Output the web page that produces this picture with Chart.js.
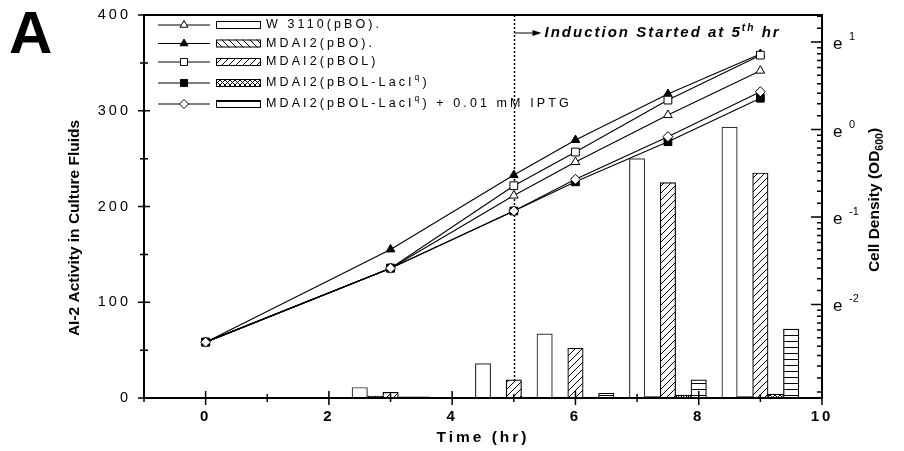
<!DOCTYPE html>
<html><head><meta charset="utf-8">
<script src="https://cdn.jsdelivr.net/npm/chart.js@4/dist/chart.umd.min.js"></script>
<style>html,body{margin:0;padding:0;background:#fff}#wrap{width:904px;height:451px}</style>
</head><body><div id="wrap"><canvas id="c" width="904" height="451"></canvas></div>
<script>
// ---------- data ----------
const times = [0, 3, 5, 6, 7.5, 9];                    // sampling times (hr)
const odW3110   = [0.088, 0.205, 0.470, 0.690, 1.18, 1.96];
const odPBO     = [0.088, 0.254, 0.594, 0.887, 1.50, 2.37];
const odPBOL    = [0.088, 0.205, 0.526, 0.773, 1.40, 2.34];
const odLacI    = [0.088, 0.205, 0.394, 0.550, 0.870, 1.43];
const odIPTG    = [0.088, 0.205, 0.394, 0.566, 0.921, 1.54];

const barTimes  = [3, 5, 6, 7.5, 9];
const aiW3110   = [11, 36, 67, 250, 283];
const aiPBO     = [2, 1, 1, 1.5, 1.5];
const aiPBOL    = [6, 19, 52, 225, 235];
const aiLacI    = [1.3, 1, 1, 3, 4];
const aiIPTG    = [1.3, 1, 5, 19, 72];

const seriesLabels = ['W 3110(pBO).', 'MDAI2(pBO).', 'MDAI2(pBOL)', 'MDAI2(pBOL-LacI^q)', 'MDAI2(pBOL-LacI^q) + 0.01 mM IPTG'];
const xTickValues = [0, 2, 4, 6, 8, 10];
const leftTickValues = [0, 100, 200, 300, 400];
const rightTickExps = [-2, -1, 0, 1];
const inductionTime = 5;
const annotationText = 'Induction Started at 5^{th} hr';

// ---------- styling ----------
const FONT = '"Liberation Sans", Arial, Helvetica, sans-serif';
const canvas = document.getElementById('c');
const mainCtx = canvas.getContext('2d');

function makePattern(kind) {
  const s = kind === 'cross' ? 5 : (kind === 'horiz' ? 6 : 7);
  const c = document.createElement('canvas'); c.width = s; c.height = s;
  const g = c.getContext('2d');
  g.fillStyle = '#fff'; g.fillRect(0, 0, s, s);
  g.strokeStyle = '#000'; g.lineWidth = 1;
  g.beginPath();
  if (kind === 'fwd' || kind === 'cross') { g.moveTo(-1, s + 1); g.lineTo(s + 1, -1); }
  if (kind === 'back' || kind === 'cross') { g.moveTo(-1, -1); g.lineTo(s + 1, s + 1); }
  if (kind === 'horiz') { g.moveTo(0, s - 0.5); g.lineTo(s, s - 0.5); }
  g.stroke();
  return mainCtx.createPattern(c, 'repeat');
}
const fills = ['#ffffff', makePattern('back'), makePattern('fwd'), makePattern('cross'), makePattern('horiz')];
const marker = [
  {style: 'triangle', bg: '#fff', r: 5},
  {style: 'triangle', bg: '#000', r: 5},
  {style: 'rect', bg: '#fff', r: 5.5},
  {style: 'rect', bg: '#000', r: 5.5},
  {style: 'rectRot', bg: '#fff', r: 5},
];
const odSeries = [odW3110, odPBO, odPBOL, odLacI, odIPTG];
const aiSeries = [aiW3110, aiPBO, aiPBOL, aiLacI, aiIPTG];

const datasets = [];
aiSeries.forEach((vals, i) => {
  datasets.push({
    type: 'bar', label: seriesLabels[i], xAxisID: 'x', yAxisID: 'y', order: 10,
    data: barTimes.map((t, j) => ({x: t, y: vals[j]})),
    backgroundColor: fills[i], borderColor: i === 0 ? '#333' : '#000', borderWidth: 1.2,
    barThickness: 15.4, grouped: true,
  });
});
odSeries.forEach((vals, i) => {
  datasets.push({
    type: 'line', label: seriesLabels[i], xAxisID: 'x', yAxisID: 'y2', order: -i,
    data: times.map((t, j) => ({x: t, y: vals[j]})),
    borderColor: '#000', borderWidth: 1.1, fill: false, tension: 0,
    pointStyle: marker[i].style, pointRadius: marker[i].r, pointBackgroundColor: marker[i].bg,
    pointBorderColor: '#000', pointBorderWidth: 1,
  });
});

// rich text: ^x or ^{..} superscript, _{..} subscript
function parseRich(s) {
  const out = []; const re = /\^\{([^}]*)\}|\^(.)|_\{([^}]*)\}/g; let last = 0, m;
  while ((m = re.exec(s))) {
    if (m.index > last) out.push({t: s.slice(last, m.index), mode: 0});
    if (m[1] !== undefined) out.push({t: m[1], mode: 1});
    else if (m[2] !== undefined) out.push({t: m[2], mode: 1});
    else out.push({t: m[3], mode: -1});
    last = re.lastIndex;
  }
  if (last < s.length) out.push({t: s.slice(last), mode: 0});
  return out;
}
function drawRich(ctx, s, x, y, o) {
  const segs = parseRich(s);
  const fontFor = (mode) => `${o.style || 'normal'} ${o.weight || 'normal'} ${mode ? o.size * 0.68 : o.size}px ${FONT}`;
  ctx.letterSpacing = (o.ls || 0) + 'px';
  let w = 0;
  segs.forEach(sg => { ctx.font = fontFor(sg.mode); sg.w = ctx.measureText(sg.t).width; w += sg.w; });
  let cx = o.align === 'center' ? x - w / 2 : (o.align === 'right' ? x - w : x);
  ctx.textAlign = 'left'; ctx.textBaseline = o.baseline || 'middle';
  segs.forEach(sg => {
    ctx.font = fontFor(sg.mode);
    const dy = sg.mode === 1 ? -o.size * 0.42 : (sg.mode === -1 ? o.size * 0.3 : 0);
    ctx.fillText(sg.t, cx, y + dy);
    cx += sg.w;
  });
  ctx.letterSpacing = '0px';
}

function noPad(s) { s.paddingTop = 0; s.paddingBottom = 0; s.paddingLeft = 0; s.paddingRight = 0; }

const decor = {
  id: 'decor',
  afterLayout(chart) {
    const spec = {x: '3px', y: '3px'};
    for (const id in spec) {
      const sc = chart.scales[id];
      if (sc && !sc._lsPatched) {
        const orig = sc.drawLabels;
        sc.drawLabels = function (area) { const c = this.ctx; c.save(); c.letterSpacing = spec[id]; orig.call(this, area); c.restore(); };
        sc._lsPatched = true;
      }
    }
  },
  beforeDatasetsDraw(chart) {
    const {ctx, chartArea: a, scales: {x}} = chart;
    const px = Math.round(x.getPixelForValue(inductionTime)) + 0.5;
    ctx.save();
    ctx.strokeStyle = '#000'; ctx.lineWidth = 1.5; ctx.setLineDash([2, 2]);
    ctx.beginPath(); ctx.moveTo(px, a.top); ctx.lineTo(px, a.bottom); ctx.stroke();
    ctx.restore();
  },
  afterDatasetsDraw(chart) {
    const {ctx, chartArea: a, scales: {x, y, y2}} = chart;
    ctx.save();
    ctx.strokeStyle = '#000'; ctx.fillStyle = '#000';
    // frame
    ctx.lineWidth = 2;
    ctx.strokeRect(a.left, a.top, a.right - a.left, a.bottom - a.top);
    // x ticks (cross the axis)
    ctx.lineWidth = 1.5;
    ctx.beginPath();
    for (let v = Math.ceil(x.min); v <= x.max; v++) {
      const px = x.getPixelForValue(v);
      const L = (v % 2 === 0) ? 7 : 4;
      ctx.moveTo(px, a.bottom - L); ctx.lineTo(px, a.bottom + L);
    }
    for (let v = y.min; v <= y.max; v += 50) {
      const py = y.getPixelForValue(v);
      const L = (v % 100 === 0) ? 6 : 4;
      ctx.moveTo(a.left - L, py); ctx.lineTo(a.left + L, py);
    }
    // right ln-scale ticks (inward)
    for (let n = -4; n <= 2; n++) {
      for (let k = 0; k < 10; k++) {
        const v = Math.exp(n) * (1 + k * (Math.E - 1) / 10);
        if (v < y2.min * 1.0001 || v > y2.max * 0.9999) continue;
        const py = y2.getPixelForValue(v);
        const L = (k === 0 && rightTickExps.includes(n)) ? 11 : 5;
        ctx.moveTo(a.right - L, py); ctx.lineTo(a.right, py);
      }
    }
    ctx.stroke();
    // right tick labels  e^n
    rightTickExps.forEach(n => {
      const py = y2.getPixelForValue(Math.exp(n));
      ctx.font = `normal 17px ${FONT}`; ctx.textAlign = 'left'; ctx.textBaseline = 'alphabetic';
      ctx.letterSpacing = '0px';
      ctx.fillText('e', a.right + 11, py + 7);
      ctx.font = `normal 11px ${FONT}`;
      ctx.fillText(String(n), a.right + 27, py - 2);
    });
    // axis titles
    ctx.save(); ctx.translate(75, 228); ctx.rotate(-Math.PI / 2);
    drawRich(ctx, 'AI-2 Activity in Culture Fluids', 0, 0, {size: 15.5, weight: 'bold', align: 'center'});
    ctx.restore();
    ctx.save(); ctx.translate(875, 200); ctx.rotate(-Math.PI / 2);
    drawRich(ctx, 'Cell Density (OD_{600})', 0, 0, {size: 15.5, weight: 'bold', align: 'center'});
    ctx.restore();
    drawRich(ctx, 'Time (hr)', (a.left + a.right) / 2, 438, {size: 15.5, weight: 'bold', align: 'center', ls: 3});
    // panel letter
    ctx.font = `bold 60px ${FONT}`; ctx.textAlign = 'left'; ctx.textBaseline = 'alphabetic';
    ctx.fillText('A', 9, 53);
    // induction annotation
    const px = Math.round(x.getPixelForValue(inductionTime)) + 0.5;
    ctx.lineWidth = 1;
    ctx.beginPath(); ctx.moveTo(px, 33); ctx.lineTo(px + 20, 33); ctx.stroke();
    ctx.beginPath(); ctx.moveTo(px + 27, 33); ctx.lineTo(px + 18, 30); ctx.lineTo(px + 18, 36); ctx.closePath(); ctx.fill();
    drawRich(ctx, annotationText, px + 30, 37, {size: 15, weight: 'bold', style: 'italic', baseline: 'alphabetic', ls: 2});
    // legend
    const rows = [25, 43.5, 62, 83, 104];
    chart.data.datasets.filter(d => d.type === 'line').forEach((d, i) => {
      const yy = rows[i];
      ctx.lineWidth = 1; ctx.strokeStyle = '#000';
      ctx.beginPath(); ctx.moveTo(158, yy); ctx.lineTo(210, yy); ctx.stroke();
      ctx.fillStyle = d.pointBackgroundColor; ctx.strokeStyle = '#000';
      Chart.helpers.drawPoint(ctx, {pointStyle: d.pointStyle, radius: d.pointRadius - 0.5, borderWidth: 1, rotation: 0}, 184, yy);
      const bd = chart.data.datasets[i];
      ctx.fillStyle = bd.backgroundColor; ctx.strokeStyle = '#000'; ctx.lineWidth = 1;
      ctx.fillRect(216, yy - 4, 45, 8); ctx.strokeRect(216.5, yy - 3.5, 44, 7);
      ctx.fillStyle = '#000';
      drawRich(ctx, seriesLabels[i], 266, yy, {size: 12.5, ls: 3.1, align: 'left'});
    });
    ctx.restore();
  }
};

const lnTop = 1.309, lnBottom = -3.069;
new Chart(canvas, {
  type: 'bar',
  data: {datasets},
  options: {
    responsive: false, animation: false, events: [],
    layout: {padding: {left: 0, right: 0, top: 15, bottom: 0}},
    plugins: {legend: {display: false}, tooltip: {enabled: false}},
    scales: {
      x: {
        type: 'linear', min: -1, max: 10, offset: false, position: 'bottom',
        afterFit: s => { s.height = 53; noPad(s); },
        grid: {display: false, drawTicks: false}, border: {display: false},
        ticks: {stepSize: 1, autoSkip: false, maxRotation: 0, padding: 10, color: '#000',
                font: {family: FONT, size: 15, weight: 'bold'},
                callback: v => (xTickValues.includes(v) ? String(v) : '')},
      },
      y: {
        type: 'linear', position: 'left', min: 0, max: 400,
        afterFit: s => { s.width = 144; noPad(s); },
        grid: {display: false, drawTicks: false}, border: {display: false},
        afterBuildTicks: s => { s.ticks = leftTickValues.map(v => ({value: v})); },
        ticks: {padding: 13, color: '#000', font: {family: FONT, size: 14.5}},
      },
      y2: {
        type: 'logarithmic', position: 'right', bounds: 'data',
        min: Math.exp(lnBottom), max: Math.exp(lnTop),
        afterFit: s => { s.width = 82; noPad(s); },
        afterBuildTicks: s => { s.ticks = rightTickExps.map(n => ({value: Math.exp(n)})); },
        grid: {display: false, drawTicks: false}, border: {display: false},
        ticks: {display: false},
      },
    },
  },
  plugins: [decor],
});
</script></body></html>
